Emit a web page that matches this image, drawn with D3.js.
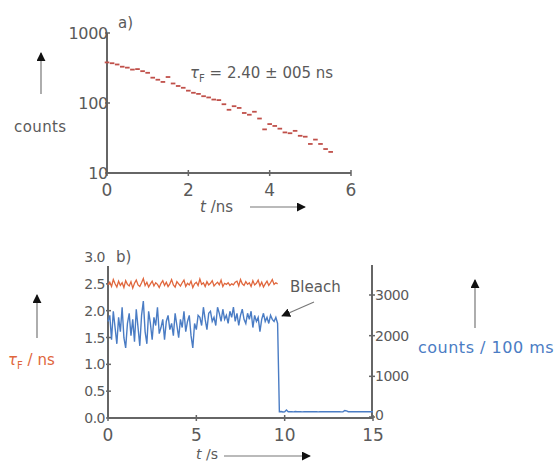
<!DOCTYPE html>
<html>
<head>
<meta charset="utf-8">
<script src="https://cdn.jsdelivr.net/npm/d3@7"></script>
<style>
  html, body { margin: 0; padding: 0; background: #fff; }
  svg { display: block; }
  text { font-family: "DejaVu Sans", sans-serif; fill: #5a5a5a; }
</style>
</head>
<body>
<svg id="chart" width="559" height="463"></svg>
<script>
// ---- Panel a: fluorescence decay histogram (counts vs. time, ns) ----
const decayTimeNs = [0, 0.125, 0.25, 0.375, 0.5, 0.625, 0.75, 0.875, 1.0, 1.125, 1.25, 1.375, 1.5,
  1.625, 1.75, 1.875, 2.0, 2.125, 2.25, 2.375, 2.5, 2.625, 2.75, 2.875, 3.0, 3.125, 3.25, 3.375,
  3.5, 3.625, 3.75, 3.875, 4.0, 4.125, 4.25, 4.375, 4.5, 4.625, 4.75, 4.875, 5.0, 5.125, 5.25,
  5.375, 5.5];
const decayCounts = [380, 370, 355, 330, 320, 300, 305, 285, 270, 230, 215, 200, 235,
  190, 175, 165, 150, 140, 135, 125, 120, 112, 110, 96, 80, 90, 85, 72,
  68, 75, 60, 42, 50, 47, 43, 38, 37, 40, 34, 33, 26, 30, 26,
  22, 20];
const decayXTicks = [0, 2, 4, 6];
const decayYTicks = [10, 100, 1000];

// ---- Panel b: single-molecule trace, 100 ms bins ----
const binSeconds = 0.1;
// fluorescence lifetime per bin (ns), until photobleaching
const lifetimeNs = [2.48, 2.53, 2.45, 2.58, 2.50, 2.44, 2.55, 2.47, 2.52, 2.43,
  2.56, 2.49, 2.46, 2.54, 2.42, 2.51, 2.57, 2.48, 2.45, 2.52,
  2.60, 2.47, 2.53, 2.44, 2.50, 2.55, 2.46, 2.52, 2.49, 2.43,
  2.51, 2.56, 2.47, 2.53, 2.45, 2.50, 2.58, 2.48, 2.44, 2.54,
  2.50, 2.46, 2.52, 2.57, 2.45, 2.51, 2.48, 2.55, 2.43, 2.50,
  2.53, 2.47, 2.59, 2.49, 2.52, 2.45, 2.54, 2.48, 2.51, 2.56,
  2.46, 2.50, 2.53, 2.48, 2.57, 2.45, 2.51, 2.49, 2.52, 2.47,
  2.50, 2.48, 2.53, 2.55, 2.46, 2.58, 2.50, 2.47, 2.54, 2.49,
  2.52, 2.45, 2.56, 2.48, 2.51, 2.57, 2.46, 2.53, 2.44, 2.50,
  2.55, 2.47, 2.52, 2.58, 2.49, 2.52, 2.50];
// photon counts per 100 ms bin, 0 - 15 s
const countsPerBin = [2350, 2500, 1900, 2600, 2200, 1800, 2450, 2100, 2700, 1950,
  1700, 2300, 2550, 2000, 2400, 1850, 2650, 2200, 1750, 2500,
  2850, 2100, 1800, 2600, 2300, 1900, 2450, 2250, 2700, 2050,
  2200, 2400, 1900, 2350, 2500, 2150, 2300, 2000, 2550, 2250,
  1950, 2400, 2200, 2600, 2100, 2350, 2500, 2000, 1700, 2300,
  2150, 2500, 2450, 2250, 2700, 2400, 2150, 2550, 2600, 2350,
  2450, 2250, 2700, 2550, 2350, 2650, 2400, 2500, 2300, 2600,
  2450, 2700, 2350, 2550, 2250, 2500, 2650, 2400, 2300, 2550,
  2400, 2600, 2200, 2500, 2350, 2450, 2100, 2400, 2550, 2350,
  2450, 2300, 2500, 2400, 2350, 2450, 2300,
  130, 135, 125, 130, 170, 128, 132, 130, 126, 134,
  130, 128, 131, 127, 133, 129, 130, 132, 128, 131,
  129, 130, 127, 133, 130, 128, 131, 129, 132, 130,
  128, 131, 130, 129, 133, 127, 130, 160, 150, 130,
  128, 132, 130, 129, 131, 128, 130, 132, 129, 130,
  131, 128, 130, 129];
const traceXTicks = [0, 5, 10, 15];
const lifetimeTicks = [0, 0.5, 1.0, 1.5, 2.0, 2.5, 3.0];
const countTicks = [0, 1000, 2000, 3000];

const svg = d3.select("#chart");
const axisColor = "#666";
const decayColor = "#c0504a";
const lifetimeColor = "#e0663c";
const countsColor = "#4a7cc4";

const defs = svg.append("defs");
defs.append("marker").attr("id", "head")
  .attr("viewBox", "0 0 10 10").attr("refX", 9).attr("refY", 5)
  .attr("markerWidth", 9).attr("markerHeight", 9).attr("markerUnits", "userSpaceOnUse")
  .attr("orient", "auto")
  .append("path").attr("d", "M0,0 L10,5 L0,10 Z").attr("fill", "#111");

function arrow(x1, y1, x2, y2, color, width) {
  svg.append("line")
    .attr("x1", x1).attr("y1", y1).attr("x2", x2).attr("y2", y2)
    .attr("stroke", color || "#777").attr("stroke-width", width || 1.2)
    .attr("marker-end", "url(#head)");
}

// ================= Panel a =================
const xA = d3.scaleLinear().domain([0, 6]).range([107, 351]);
const yA = d3.scaleLog().domain([10, 1000]).range([173, 33]);

// axes lines
svg.append("line").attr("x1", xA(0)).attr("x2", xA(6)).attr("y1", yA(10)).attr("y2", yA(10))
  .attr("stroke", axisColor).attr("stroke-width", 2);
svg.append("line").attr("x1", xA(0)).attr("x2", xA(0)).attr("y1", yA(10)).attr("y2", yA(1000))
  .attr("stroke", axisColor).attr("stroke-width", 2);

// x ticks
const gxA = svg.append("g");
gxA.selectAll("line").data(decayXTicks).join("line")
  .attr("x1", d => xA(d)).attr("x2", d => xA(d))
  .attr("y1", yA(10) - 3).attr("y2", yA(10) + 3)
  .attr("stroke", axisColor).attr("stroke-width", 1.5);
gxA.selectAll("text").data(decayXTicks).join("text")
  .attr("x", d => xA(d)).attr("y", 196)
  .attr("text-anchor", "middle").attr("font-size", 17)
  .text(d => d);

// y ticks
const gyA = svg.append("g");
gyA.selectAll("line").data(decayYTicks).join("line")
  .attr("x1", xA(0) - 2).attr("x2", xA(0) + 3)
  .attr("y1", d => yA(d)).attr("y2", d => yA(d))
  .attr("stroke", axisColor).attr("stroke-width", 1.5);
gyA.selectAll("text").data(decayYTicks).join("text")
  .attr("x", xA(0) + 1).attr("y", d => yA(d) + 6)
  .attr("text-anchor", "end").attr("font-size", 16).attr("letter-spacing", -0.3)
  .text(d => d);

// data markers: short dashes
svg.append("g").selectAll("line").data(decayTimeNs).join("line")
  .attr("x1", (d) => xA(d) - 2.3).attr("x2", d => xA(d) + 2.3)
  .attr("y1", (d, i) => yA(decayCounts[i])).attr("y2", (d, i) => yA(decayCounts[i]))
  .attr("stroke", decayColor).attr("stroke-width", 1.8);

svg.append("text").attr("x", 118).attr("y", 28).attr("font-size", 15).text("a)");

const tauA = svg.append("text").attr("x", 190).attr("y", 78).attr("font-size", 15);
tauA.append("tspan").attr("font-style", "italic").text("τ");
tauA.append("tspan").attr("font-size", 10).attr("dy", 4).text("F");
tauA.append("tspan").attr("dy", -4).text(" = 2.40 ± 005 ns");

svg.append("text").attr("x", 14).attr("y", 132).attr("font-size", 15).attr("letter-spacing", 0.4).text("counts");
arrow(41, 94, 41, 53, "#777", 1.2);

const tA = svg.append("text").attr("x", 200).attr("y", 212).attr("font-size", 15);
tA.append("tspan").attr("font-style", "italic").text("t");
tA.append("tspan").text(" /ns");
arrow(250, 207, 305, 207, "#777", 1.2);

// ================= Panel b =================
const xB = d3.scaleLinear().domain([0, 15]).range([108, 373]);
const yL = d3.scaleLinear().domain([0, 3]).range([418, 257]);
const yR = d3.scaleLinear().domain([0, 3000]).range([417, 295]);

// axis frame
svg.append("line").attr("x1", xB(0)).attr("x2", xB(15)).attr("y1", yL(0)).attr("y2", yL(0))
  .attr("stroke", axisColor).attr("stroke-width", 2);
svg.append("line").attr("x1", xB(0)).attr("x2", xB(0)).attr("y1", yL(0)).attr("y2", 266)
  .attr("stroke", axisColor).attr("stroke-width", 2);
svg.append("line").attr("x1", 372).attr("x2", 372).attr("y1", yL(0)).attr("y2", 265)
  .attr("stroke", axisColor).attr("stroke-width", 2);

// x ticks
const gxB = svg.append("g");
gxB.selectAll("line").data(traceXTicks).join("line")
  .attr("x1", d => xB(d)).attr("x2", d => xB(d))
  .attr("y1", yL(0) - 3).attr("y2", yL(0) + 3)
  .attr("stroke", axisColor).attr("stroke-width", 1.5);
gxB.selectAll("text").data(traceXTicks).join("text")
  .attr("x", d => xB(d)).attr("y", 441)
  .attr("text-anchor", "middle").attr("font-size", 17)
  .text(d => d);

// left ticks (lifetime)
const gyL = svg.append("g");
gyL.selectAll("line").data(lifetimeTicks.filter(d => d < 3)).join("line")
  .attr("x1", xB(0) - 2).attr("x2", xB(0) + 3)
  .attr("y1", d => yL(d)).attr("y2", d => yL(d))
  .attr("stroke", axisColor).attr("stroke-width", 1.5);
gyL.selectAll("text").data(lifetimeTicks).join("text")
  .attr("x", xB(0) - 3).attr("y", d => yL(d) + 5)
  .attr("text-anchor", "end").attr("font-size", 14).attr("letter-spacing", -0.5)
  .text(d => d.toFixed(1));

// right ticks (counts)
const gyR = svg.append("g");
gyR.selectAll("line").data(countTicks).join("line")
  .attr("x1", 369).attr("x2", 375)
  .attr("y1", d => yR(d)).attr("y2", d => yR(d))
  .attr("stroke", axisColor).attr("stroke-width", 1.5);
gyR.selectAll("text").data(countTicks).join("text")
  .attr("x", 375).attr("y", d => yR(d) + (d === 0 ? 3 : 5))
  .attr("font-size", 14).attr("letter-spacing", -0.5)
  .text(d => d);

// traces
const countLine = d3.line().x((d, i) => xB(i * binSeconds)).y(d => yR(d));
svg.append("path").datum(countsPerBin).attr("d", countLine)
  .attr("fill", "none").attr("stroke", countsColor).attr("stroke-width", 1.4);

const lifeLine = d3.line().x((d, i) => xB(i * binSeconds)).y(d => yL(d));
svg.append("path").datum(lifetimeNs).attr("d", lifeLine)
  .attr("fill", "none").attr("stroke", lifetimeColor).attr("stroke-width", 1.3);

svg.append("text").attr("x", 116).attr("y", 262).attr("font-size", 15).text("b)");

svg.append("text").attr("x", 290).attr("y", 292).attr("font-size", 15).text("Bleach");
arrow(314, 302, 282, 316, "#777", 1.1);

const tauB = svg.append("text").attr("x", 8).attr("y", 365).attr("font-size", 15);
tauB.append("tspan").attr("font-style", "italic").attr("fill", lifetimeColor).style("fill", lifetimeColor).text("τ");
tauB.append("tspan").attr("font-size", 10).attr("dy", 4).style("fill", lifetimeColor).text("F");
tauB.append("tspan").attr("dy", -4).style("fill", lifetimeColor).text(" / ns");
arrow(37, 338, 37, 295, "#777", 1.2);

svg.append("text").attr("x", 418).attr("y", 353).attr("font-size", 16).attr("letter-spacing", 0.5)
  .style("fill", countsColor).text("counts / 100 ms");
arrow(475, 328, 475, 280, "#777", 1.2);

const tB = svg.append("text").attr("x", 196).attr("y", 459).attr("font-size", 14);
tB.append("tspan").attr("font-style", "italic").text("t");
tB.append("tspan").text(" /s");
arrow(224, 456, 310, 456, "#777", 1.2);
</script>
</body>
</html>
